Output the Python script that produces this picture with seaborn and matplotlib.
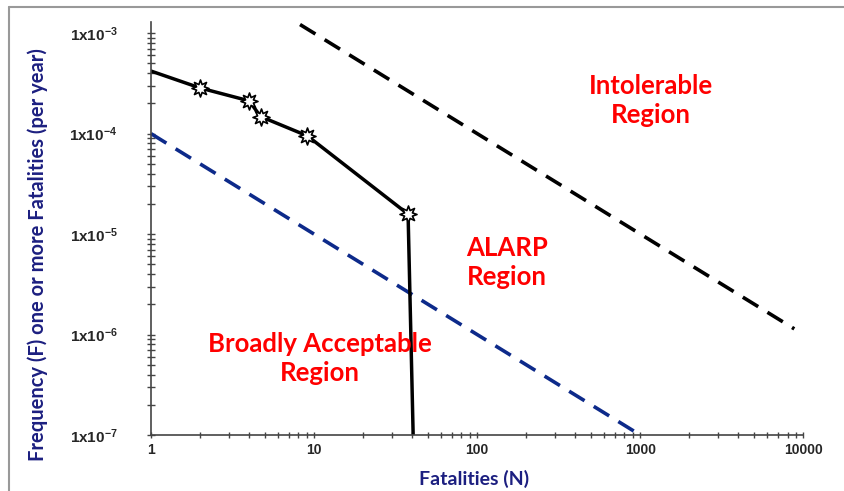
import matplotlib
matplotlib.use("Agg")
from matplotlib import pyplot as plt
from matplotlib.lines import Line2D
from matplotlib.ticker import LogLocator, FixedLocator, FixedFormatter, NullFormatter
import pandas as pd
import seaborn as sns

sns.set_style("ticks")
plt.rcParams["font.family"] = ["Lato", "DejaVu Sans"]
plt.rcParams["mathtext.fontset"] = "custom"
plt.rcParams["mathtext.rm"] = "Liberation Sans:bold"
plt.rcParams["mathtext.bf"] = "Liberation Sans:bold"

# FN curve (fatalities vs cumulative frequency)
fn_n = [1, 2.0, 4.0, 4.7, 9.1, 37.7, 40.5]
fn_f = [4.2e-4, 2.85e-4, 2.12e-4, 1.48e-4, 9.5e-5, 1.58e-5, 1e-7]
marker_idx = [1, 2, 3, 4, 5]

# criterion lines
intolerable_n = [8.2, 8800]
intolerable_f = [1.22e-3, 1.14e-6]
acceptable_n = [1, 1000]
acceptable_f = [1e-4, 1e-7]

x_ticks = [1, 10, 100, 1000, 10000]
x_labels = ["1", "10", "100", "1000", "10000"]
y_ticks = [1e-7, 1e-6, 1e-5, 1e-4, 1e-3]
y_labels = [r"$\mathbf{1x10^{-7}}$", r"$\mathbf{1x10^{-6}}$", r"$\mathbf{1x10^{-5}}$",
            r"$\mathbf{1x10^{-4}}$", r"$\mathbf{1x10^{-3}}$"]

navy = "#1c1f80"
fn_df = pd.DataFrame({"N": fn_n, "F": fn_f})
pts_df = fn_df.iloc[marker_idx]

fig = plt.figure(figsize=(8.45, 4.91), dpi=100)
ax = fig.add_axes([0.1787, 0.114, 0.772, 0.841])

sns.lineplot(x=intolerable_n, y=intolerable_f, color="black", linewidth=2.6, ax=ax,
             linestyle=(0, (5, 3)))
sns.lineplot(x=acceptable_n, y=acceptable_f, color="#0d2a8a", linewidth=2.6, ax=ax,
             linestyle=(0, (5, 3)))
sns.lineplot(data=fn_df, x="N", y="F", sort=False, color="black", linewidth=2.5, ax=ax)
sns.scatterplot(data=pts_df, x="N", y="F", marker=(8, 1, 0), s=150, color="white",
                edgecolor="black", linewidth=1.2, zorder=5, ax=ax)

ax.set_xscale("log")
ax.set_yscale("log")
ax.set_xlim(1, 10000)
ax.set_ylim(1e-7, 1.29e-3)

ax.xaxis.set_major_locator(FixedLocator(x_ticks))
ax.xaxis.set_major_formatter(FixedFormatter(x_labels))
ax.xaxis.set_minor_locator(LogLocator(base=10, subs=range(2, 10), numticks=20))
ax.xaxis.set_minor_formatter(NullFormatter())
ax.yaxis.set_major_locator(FixedLocator(y_ticks))
ax.yaxis.set_major_formatter(FixedFormatter(y_labels))
ax.yaxis.set_minor_locator(LogLocator(base=10, subs=range(2, 10), numticks=20))
ax.yaxis.set_minor_formatter(NullFormatter())

ax.tick_params(axis="x", which="both", direction="inout", length=4, width=1, color="#444444",
               labelsize=10, pad=4)
ax.tick_params(axis="y", which="both", direction="inout", length=6, width=1, color="#444444",
               labelsize=11, pad=21)
for lab in ax.get_xticklabels():
    lab.set_fontweight("bold")
    lab.set_family("Liberation Sans")

sns.despine(ax=ax)
ax.spines["left"].set_color("#444444")
ax.spines["bottom"].set_color("#444444")
ax.spines["left"].set_linewidth(1.2)
ax.spines["bottom"].set_linewidth(1.2)

ax.set_xlabel("Fatalities (N)", fontsize=14, fontweight="bold", color=navy)
ax.set_ylabel("Frequency (F) one or more Fatalities (per year)", fontsize=14.5, fontweight="bold", color=navy)
ax.xaxis.set_label_coords(0.495, -0.085)
ax.yaxis.set_label_coords(-0.158, 0.436)

text_kw = dict(transform=ax.transAxes, ha="center", va="center", color="#ff0000",
               fontsize=18.5, fontweight="bold", linespacing=1.25)
ax.text(0.767, 0.811, "Intolerable\nRegion", **text_kw)
ax.text(0.546, 0.419, "ALARP\nRegion", **text_kw)
ax.text(0.259, 0.186, "Broadly Acceptable\nRegion", **text_kw)

# outer frame (top and left edges)
fig.add_artist(Line2D([0.011, 1.0], [0.986, 0.986], color="#999999", linewidth=1.5))
fig.add_artist(Line2D([0.011, 0.011], [0.0, 0.986], color="#999999", linewidth=1.5))

fig.savefig("out.png", dpi=100)
